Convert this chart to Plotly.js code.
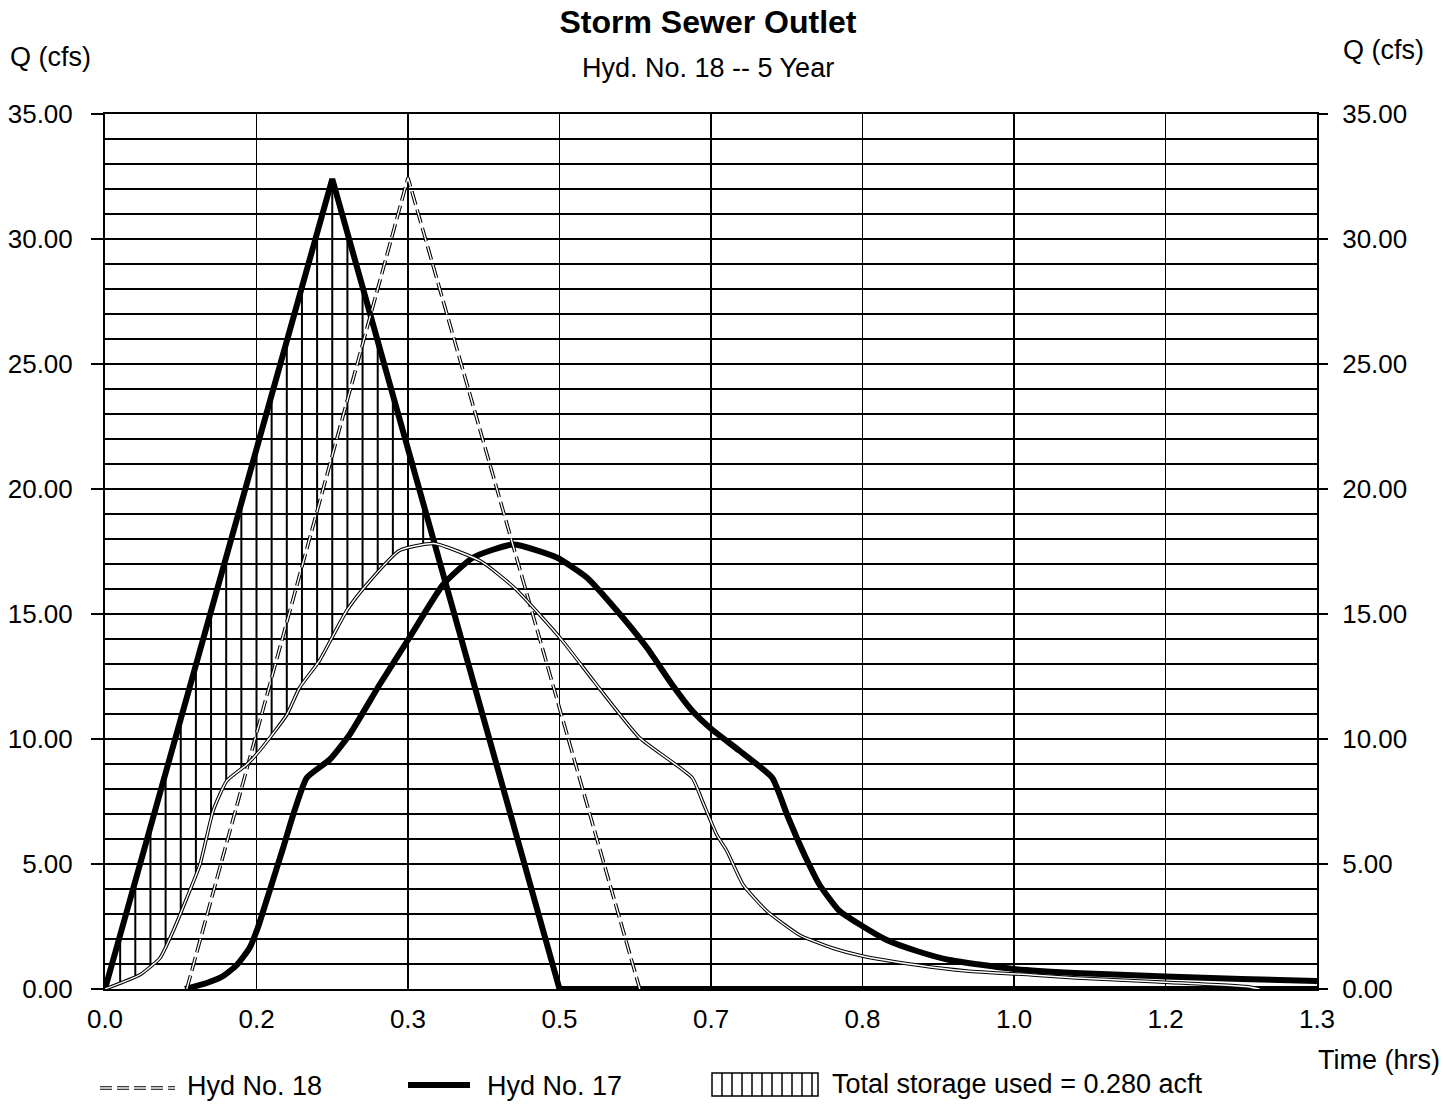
<!DOCTYPE html>
<html><head><meta charset="utf-8">
<script src="https://cdn.plot.ly/plotly-3.0.1.min.js"></script>
<style>body{margin:0;background:#fff}#chart{width:1453px;height:1104px}</style>
</head><body><div id="chart"></div>
<script>
// ---------- data ----------
const inflowTime = [0, 0.25, 0.5, 1.3333];
const inflowQ    = [0, 32.4, 0, 0];

const shiftedInflowTime = [0.09, 0.3333, 0.5883];
const shiftedInflowQ    = [0, 32.45, 0];

const outflowTime = [0, 0.0385, 0.0605, 0.075, 0.09, 0.1045, 0.119, 0.134, 0.156, 0.170, 0.2, 0.214, 0.236, 0.266, 0.288, 0.324, 0.362, 0.414, 0.45, 0.478, 0.503, 0.538, 0.588, 0.646, 0.657, 0.673, 0.684, 0.702, 0.728, 0.764, 0.8, 0.833, 0.893, 0.948, 1.02, 1.069, 1.15, 1.255, 1.27];
const outflowQ    = [0, 0.57, 1.24, 2.32, 3.64, 4.98, 7.13, 8.33, 8.98, 9.53, 10.97, 12.05, 13.14, 15.14, 16.18, 17.54, 17.82, 17.1, 16.06, 14.98, 13.94, 12.3, 10.05, 8.45, 7.53, 6.17, 5.53, 4.17, 3.12, 2.16, 1.64, 1.32, 0.96, 0.72, 0.56, 0.44, 0.3, 0.1, 0];

const shiftedOutflowTime = [0.088, 0.112, 0.130, 0.145, 0.159, 0.168, 0.181, 0.196, 0.207, 0.222, 0.247, 0.269, 0.302, 0.335, 0.372, 0.405, 0.449, 0.497, 0.530, 0.563, 0.596, 0.624, 0.646, 0.668, 0.698, 0.734, 0.750, 0.761, 0.772, 0.786, 0.808, 0.833, 0.860, 0.893, 0.929, 1.0, 1.067, 1.167, 1.25, 1.3333];
const shiftedOutflowQ    = [0, 0.24, 0.52, 0.96, 1.64, 2.44, 3.92, 5.65, 6.97, 8.45, 9.17, 10.17, 12.17, 14.06, 16.18, 17.26, 17.78, 17.26, 16.46, 15.14, 13.66, 12.17, 11.13, 10.37, 9.53, 8.45, 7.0, 6.05, 5.17, 4.17, 3.12, 2.52, 1.96, 1.52, 1.16, 0.8, 0.64, 0.5, 0.4, 0.32];

const xTickVals = [0, 0.1667, 0.3333, 0.5, 0.6667, 0.8333, 1.0, 1.1667, 1.3333];
const xTickText = ["0.0", "0.2", "0.3", "0.5", "0.7", "0.8", "1.0", "1.2", "1.3"];

const titleText = "Storm Sewer Outlet";
const subtitleText = "Hyd. No. 18 -- 5 Year";
const storageText = "Total storage used = 0.280 acft";

// ---------- helpers ----------
const W = 1453, H = 1104;
const L = 105, R = 1317, T = 114, B = 989;
const px = x => (x - L) / (R - L);
const py = y => (B - y) / (B - T);
function interp(xs, ys, x) {
  if (x <= xs[0]) return ys[0];
  for (let i = 1; i < xs.length; i++) {
    if (x <= xs[i]) { const f = (x - xs[i-1]) / (xs[i] - xs[i-1]); return ys[i-1] + f * (ys[i] - ys[i-1]); }
  }
  return ys[ys.length - 1];
}

// storage hatch: vertical lines each minute between inflow and outflow
const hatchStep = 1 / 60;
const hx = [], hy = [];
for (let k = 1; k * hatchStep < 0.5; k++) {
  const t = k * hatchStep;
  const qi = interp(inflowTime, inflowQ, t), qo = interp(outflowTime, outflowQ, t);
  if (qi > qo + 0.2) { hx.push(t, t, null); hy.push(qo, qi, null); }
}

const FONT = "Liberation Sans, Arial, sans-serif";
const traces = [
  {x: hx, y: hy, mode: 'lines', line: {color: '#000', width: 2}, hoverinfo: 'skip', name: 'storage'},
  {x: inflowTime, y: inflowQ, mode: 'lines', line: {color: '#000', width: 6}, name: 'Hyd No. 17', cliponaxis: false},
  {x: shiftedOutflowTime, y: shiftedOutflowQ, mode: 'lines', line: {color: '#000', width: 6, shape: 'spline', smoothing: 0.5}, name: 'Hyd No. 17b', cliponaxis: false},
  {x: shiftedInflowTime, y: shiftedInflowQ, mode: 'lines', line: {color: '#000', width: 3.5, dash: '14px,5px'}, name: 'Hyd No. 18b'},
  {x: shiftedInflowTime, y: shiftedInflowQ, mode: 'lines', line: {color: '#fff', width: 1.4, dash: '14px,5px'}, name: 'Hyd No. 18b core'},
  {x: outflowTime, y: outflowQ, mode: 'lines', line: {color: '#000', width: 3.5, shape: 'spline', smoothing: 0.5}, name: 'Hyd No. 18'},
  {x: outflowTime, y: outflowQ, mode: 'lines', line: {color: '#fff', width: 1.4, shape: 'spline', smoothing: 0.5}, name: 'Hyd No. 18 core'},
  {x: inflowTime, y: inflowQ, mode: 'lines', line: {color: 'rgba(0,0,0,0)', width: 0}, yaxis: 'y2', hoverinfo: 'skip', name: 'right axis'}
];

const ann = [];
function addText(text, cx, cy, size, anchor, bold) {
  ann.push({text: bold ? '<b>' + text + '</b>' : text, x: px(cx), y: py(cy), xref: 'paper', yref: 'paper',
    xanchor: anchor || 'center', yanchor: 'middle', showarrow: false, font: {family: FONT, size: size, color: '#000'}});
}
addText(subtitleText, 708, 68, 27);
addText('Q (cfs)', 50, 57, 27);
addText('Q (cfs)', 1383, 50, 27);
addText('Time (hrs)', 1379, 1060, 27);
addText('Hyd No. 18', 185, 1086, 27, 'left');
addText('Hyd No. 17', 485, 1086, 27, 'left');
addText(storageText, 830, 1084, 27, 'left');

const shapes = [];
function seg(x0, y0, x1, y1, w, color, dash) {
  shapes.push({type: 'line', xref: 'paper', yref: 'paper', x0: px(x0), y0: py(y0), x1: px(x1), y1: py(y1),
    line: {color: color, width: w, dash: dash || 'solid'}});
}
seg(100, 1088, 175, 1088, 3.5, '#000', '12px,5px');
seg(100, 1088, 175, 1088, 1.4, '#fff', '12px,5px');
seg(408, 1085, 470, 1085, 6, '#000');
shapes.push({type: 'rect', xref: 'paper', yref: 'paper', x0: px(712), x1: px(818), y0: py(1096), y1: py(1073), line: {color: '#000', width: 1.5}});
for (let xx = 722; xx < 818; xx += 10) seg(xx, 1073, xx, 1096, 1.5, '#000');

const layout = {
  width: W, height: H,
  margin: {l: L, r: W - R, t: T, b: H - B},
  paper_bgcolor: '#fff', plot_bgcolor: '#fff',
  showlegend: false,
  font: {family: FONT, color: '#000'},
  title: {text: '<b>' + titleText + '</b>', font: {family: FONT, size: 32, color: '#000'},
    xref: 'container', yref: 'container', x: 708 / W, xanchor: 'center', y: 1 - 22 / H, yanchor: 'middle'},
  xaxis: {range: [0, 1.3333], tickmode: 'array', tickvals: xTickVals, ticktext: xTickText,
    showgrid: true, gridcolor: '#000', gridwidth: 1.5, zeroline: false,
    showline: true, linecolor: '#000', linewidth: 2, mirror: true, ticks: '',
    tickfont: {family: FONT, size: 26, color: '#000'}, ticklabelstandoff: 6},
  yaxis: {range: [0, 35], dtick: 5, tick0: 0, tickformat: '.2f',
    showgrid: true, gridcolor: '#000', gridwidth: 1.8, zeroline: false,
    minor: {dtick: 1, showgrid: true, gridcolor: '#000', gridwidth: 2.4, ticks: ''},
    showline: true, linecolor: '#000', linewidth: 2, mirror: true,
    ticks: 'outside', ticklen: 12, tickwidth: 1.8, tickcolor: '#000',
    tickfont: {family: FONT, size: 26, color: '#000'}, ticklabelstandoff: 13},
  yaxis2: {overlaying: 'y', side: 'right', range: [0, 35], dtick: 5, tick0: 0, tickformat: '.2f',
    showgrid: false, zeroline: false, showline: false,
    ticks: 'outside', ticklen: 10, tickwidth: 1.8, tickcolor: '#000',
    tickfont: {family: FONT, size: 26, color: '#000'}, ticklabelstandoff: 9},
  annotations: ann,
  shapes: shapes
};

Plotly.newPlot('chart', traces, layout, {displayModeBar: false, staticPlot: true});
</script>
</body></html>
